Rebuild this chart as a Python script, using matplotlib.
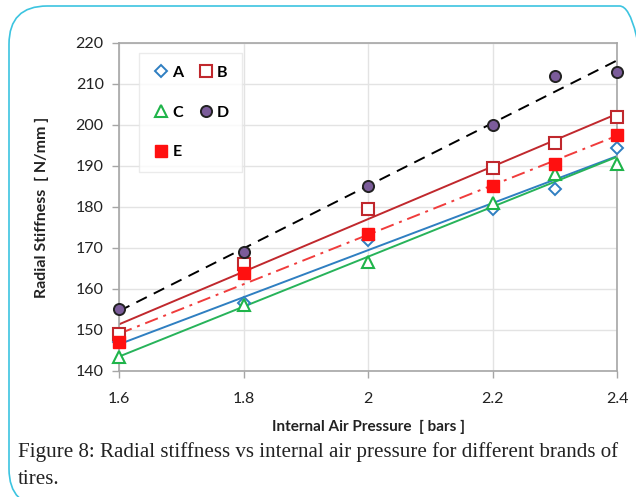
import numpy as np
import matplotlib.pyplot as plt
from matplotlib.patches import FancyBboxPatch

# Pressure values (bars)
pressure = np.array([1.6, 1.8, 2.0, 2.2, 2.3, 2.4])

# Radial stiffness (N/mm) for each tire brand
stiff_a = np.array([147.0, 156.5, 172.0, 179.5, 184.5, 194.5])
stiff_b = np.array([149.0, 166.0, 179.5, 189.5, 195.5, 202.0])
stiff_c = np.array([143.5, 156.0, 166.5, 181.0, 188.0, 190.5])
stiff_d = np.array([155.0, 169.0, 185.0, 200.0, 212.0, 213.0])
stiff_e = np.array([147.0, 164.0, 173.5, 185.0, 190.5, 197.5])

x_ticks = [1.6, 1.8, 2.0, 2.2, 2.4]
x_tick_labels = ['1.6', '1.8', '2', '2.2', '2.4']
y_ticks = np.arange(140, 221, 10)

plt.rcParams['font.family'] = ['Lato', 'DejaVu Sans']

fig = plt.figure(figsize=(6.36, 4.97), dpi=100)
ax = fig.add_axes([119 / 636, 1 - 371 / 497, 498 / 636, 328 / 497])

grey = '#a6a6a6'
x_fit = np.array([1.6, 2.4])

# trend lines (linear fits)
def trend(y, **kw):
    p = np.poly1d(np.polyfit(pressure, y, 1))
    ax.plot(x_fit, p(x_fit), zorder=2, **kw)

trend(stiff_d, color='black', lw=1.4, ls=(0, (6, 4)))
trend(stiff_b, color='#c0282d', lw=1.4)
trend(stiff_e, color='#f03c3c', lw=1.4, ls=(0, (7, 3, 1.5, 3)))
trend(stiff_a, color='#2f7fc1', lw=1.4)
trend(stiff_c, color='#27b35a', lw=1.4)

# data points
ha, = ax.plot(pressure, stiff_a, ls='none', marker='D', ms=6, mfc='white', mec='#2f7fc1', mew=1.4, label='A', zorder=3, clip_on=False)
hb, = ax.plot(pressure, stiff_b, ls='none', marker='s', ms=8, mfc='white', mec='#c0282d', mew=1.5, label='B', zorder=3, clip_on=False)
hc, = ax.plot(pressure, stiff_c, ls='none', marker='^', ms=8, mfc='white', mec='#1fb44a', mew=1.5, label='C', zorder=3, clip_on=False)
hd, = ax.plot(pressure, stiff_d, ls='none', marker='o', ms=8, mfc='#7b5c9a', mec='#222222', mew=1.4, label='D', zorder=3, clip_on=False)
he, = ax.plot(pressure, stiff_e, ls='none', marker='s', ms=8, mfc='#ff1010', mec='#ff1010', mew=1.0, label='E', zorder=4, clip_on=False)

ax.set_xlim(1.6, 2.4)
ax.set_ylim(140, 220)
ax.set_xticks(x_ticks)
ax.set_xticklabels(x_tick_labels)
ax.set_yticks(y_ticks)
ax.grid(True, color='#e3e3e3', lw=1)
ax.set_axisbelow(True)
for s in ax.spines.values():
    s.set_color(grey)
    s.set_linewidth(1.2)
ax.tick_params(direction='out', length=5, color=grey, width=1, labelsize=11.5,
               labelcolor='#222222', pad=6)
ax.tick_params(axis='x', pad=10)

ax.set_xlabel('Internal Air Pressure  [ bars ]', fontsize=11, fontweight='bold',
              color='#222222', labelpad=10)
ax.set_ylabel('Radial Stiffness  [ N/mm ]', fontsize=11.5, fontweight='bold',
              color='#222222', labelpad=19)

# legend filled row by row: A B / C D / E
leg = ax.legend([ha, hc, he, hb, hd], ['A', 'C', 'E', 'B', 'D'], ncol=2,
                loc='upper left', bbox_to_anchor=(0.04, 0.97), borderaxespad=0,
                frameon=True, fontsize=11.5, handletextpad=0.1, columnspacing=0.8,
                labelspacing=1.6, handlelength=1.2, borderpad=0.8, fancybox=False)
leg.get_frame().set_edgecolor('#e6e6e6')
leg.get_frame().set_linewidth(1)
for t in leg.get_texts():
    t.set_fontweight('bold')

# caption below the chart
fig.text(18 / 636, 1 - 452 / 497, 'Figure 8: Radial stiffness vs internal air pressure for different brands of',
         family='Liberation Serif', fontsize=15.1, va='center', ha='left', color='#222222')
fig.text(18 / 636, 1 - 479 / 497, 'tires.', family='Liberation Serif', fontsize=15.1,
         va='center', ha='left', color='#222222')

# rounded page frame
frame = FancyBboxPatch((9 / 636, -0.02), 1.02, 1 - 6 / 497 + 0.02,
                       boxstyle='round,pad=0,rounding_size=0.06',
                       transform=fig.transFigure, fill=False, ec='#3cc4e0', lw=1.2,
                       mutation_aspect=636 / 497)
fig.patches.append(frame)

fig.savefig('out.png', dpi=100)
